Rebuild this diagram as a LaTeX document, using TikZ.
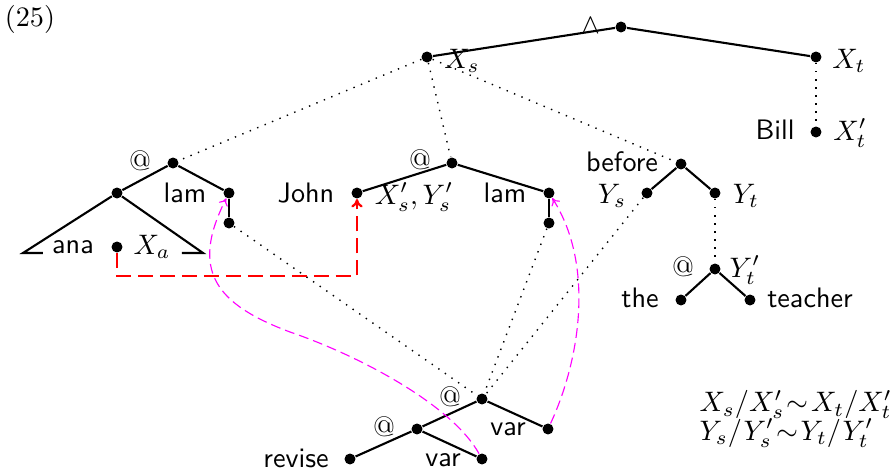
\documentclass[tikz,border=0pt]{standalone}
\usetikzlibrary{arrows.meta}
\definecolor{mag}{RGB}{255,0,255}
\definecolor{rd}{RGB}{255,0,0}
\begin{document}
\begin{tikzpicture}[x=0.355pt,y=-0.355pt,
  dot/.style={circle,fill=black,inner sep=0pt,minimum size=3.9pt},
  edge/.style={line width=0.75pt},
  dots/.style={line width=0.5pt,dash pattern=on 0.5pt off 2.35pt},
  lab/.style={inner sep=0pt,font=\sffamily},
  mlab/.style={inner sep=0pt},
  redarr/.style={rd,line width=0.8pt,dash pattern=on 5.3pt off 2.5pt,-{To[length=3pt,width=4pt]}},
  magarr/.style={mag,line width=0.4pt,dash pattern=on 3.5pt off 1.8pt,-{To[length=2.5pt,width=3.5pt]}}]
\useasboundingbox (0,0) rectangle (890,472);
% labels
\node (num) at (30,19) {(25)};
% top
\node[dot] (root) at (621,27) {};
\node[mlab] (wedge) at (591,26) {$\wedge$};
\node[dot] (Xs) at (427,57) {};
\node[mlab] (XsL) at (462,61) {$X_s$};
\node[dot] (Xt) at (816,57) {};
\node[mlab] (XtL) at (849,61) {$X_t$};
\node[dot] (Bill) at (816,132) {};
\node[lab] (BillL) at (775,130) {Bill};
\node[mlab] (XtpL) at (850,133) {$X'_t$};
% left tree
\node[dot] (Lat) at (173,163) {};
\node[mlab] (LatL) at (140,161) {@};
\node[dot] (Lc) at (117,193) {};
\node[dot] (Llam) at (229,193) {};
\node[lab] (LlamL) at (185,193) {lam};
\node[dot] (Llamc) at (229,223) {};
\coordinate (TriL) at (23,253);
\coordinate (TriR) at (203,253);
\coordinate (TriLe) at (43,253);
\coordinate (TriRe) at (182,253);
\node[lab] (ana) at (73,247) {ana};
\node[dot] (Xa) at (117,247) {};
\node[mlab] (XaL) at (152,247) {$X_a$};
% middle tree
\node[dot] (Mat) at (452,163) {};
\node[mlab] (MatL) at (420,160) {@};
\node[dot] (John) at (357,193) {};
\node[lab] (JohnL) at (306,193) {John};
\node[mlab] (XYs) at (414,197) {$X'_s,Y'_s$};
\node[dot] (Mlam) at (549,193) {};
\node[lab] (MlamL) at (505,193) {lam};
\node[dot] (Mlamc) at (549,223) {};
% before tree
\node[dot] (bef) at (681,164) {};
\node[lab] (befL) at (622,162) {before};
\node[dot] (Ys) at (647,193) {};
\node[mlab] (YsL) at (612,196) {$Y_s$};
\node[dot] (Yt) at (715,193) {};
\node[mlab] (YtL) at (746,196) {$Y_t$};
\node[dot] (Ytp) at (715,269) {};
\node[mlab] (YtpAt) at (683,267) {@};
\node[mlab] (YtpL) at (745,270) {$Y'_t$};
\node[dot] (the) at (681,300) {};
\node[lab] (theL) at (640,298) {the};
\node[dot] (teach) at (750,300) {};
\node[lab] (teachL) at (810,298) {teacher};
% bottom tree
\node[dot] (Bat) at (482,399) {};
\node[mlab] (BatL) at (450,397) {@};
\node[dot] (Iat) at (417,429) {};
\node[mlab] (IatL) at (384,427) {@};
\node[dot] (varR) at (548,429) {};
\node[lab] (varRL) at (508,429) {var};
\node[dot] (revise) at (350,459) {};
\node[lab] (reviseL) at (296,458) {revise};
\node[dot] (varB) at (482,459) {};
\node[lab] (varBL) at (443,460) {var};
% formula
\node[mlab,anchor=west,align=left] (form) at (699,419) {$X_s/X'_s\mskip1.5mu{\sim}\mskip1.5mu X_t/X'_t$\\[-2pt]$Y_s/Y'_s\mskip1.5mu{\sim}\mskip1.5mu Y_t/Y'_t$};
% solid edges
\draw[edge] (root) -- (Xs);
\draw[edge] (root) -- (Xt);
\draw[edge] (Lat) -- (Lc);
\draw[edge] (Lat) -- (Llam);
\draw[edge] (Llam) -- (Llamc);
\draw[edge] (TriLe) -- (TriL) -- (Lc) -- (TriR) -- (TriRe);
\draw[edge] (Mat) -- (John);
\draw[edge] (Mat) -- (Mlam);
\draw[edge] (Mlam) -- (Mlamc);
\draw[edge] (bef) -- (Ys);
\draw[edge] (bef) -- (Yt);
\draw[edge] (Ytp) -- (the);
\draw[edge] (Ytp) -- (teach);
\draw[edge] (Bat) -- (Iat);
\draw[edge] (Bat) -- (varR);
\draw[edge] (Iat) -- (revise);
\draw[edge] (Iat) -- (varB);
% dotted
\draw[dots] (Xs) -- (Lat);
\draw[dots] (Xs) -- (Mat);
\draw[dots] (Xs) -- (bef);
\draw[dots] (Xt) -- (Bill);
\draw[dots] (Yt) -- (Ytp);
\draw[dots] (Llamc) -- (Bat);
\draw[dots] (Mlamc) -- (Bat);
\draw[dots] (Ys) -- (Bat);
% red
\coordinate (redturn) at (357,276);
\draw[redarr] (Xa) |- (redturn) -- (John);
% magenta
\draw[magarr] (varB) .. controls (452,405) and (360,356) .. (290,332) .. controls (215,304) and (190,270) .. (Llam);
\draw[magarr] (varR) .. controls (580,360) and (595,265) .. (Mlam);
\end{tikzpicture}
\end{document}
